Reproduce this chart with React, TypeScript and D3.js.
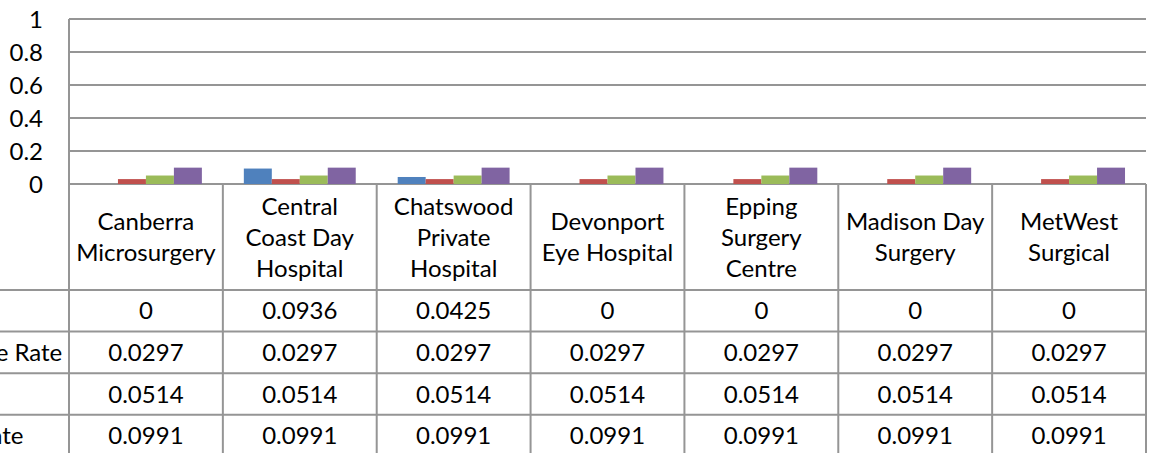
import { scaleBand, scaleLinear, range } from 'd3';

const width = 1152;
const height = 453;

// plot + data table layout (Excel style chart)
const plotLeft = 69;
const plotRight = 1146;
const plotTop = 19;
const plotBottom = 184;
const headerBottom = 290;
const rowHeight = 41.6;
const font = 'Lato, Calibri, sans-serif';
const fontSize = 24;
const lineHeight = 31;
const baselineShift = 8.5; // half the cap height

const categories = [
  'Canberra Microsurgery',
  'Central Coast Day Hospital',
  'Chatswood Private Hospital',
  'Devonport Eye Hospital',
  'Epping Surgery Centre',
  'Madison Day Surgery',
  'MetWest Surgical',
];
// how Excel wrapped the category names in the table header
const categoryLines = [
  ['Canberra', 'Microsurgery'],
  ['Central', 'Coast Day', 'Hospital'],
  ['Chatswood', 'Private', 'Hospital'],
  ['Devonport', 'Eye Hospital'],
  ['Epping', 'Surgery', 'Centre'],
  ['Madison Day', 'Surgery'],
  ['MetWest', 'Surgical'],
];

const seriesNames = ['Hospital', 'Peer Group Average Rate', 'Peer Group Mean', 'Peer Group Max Rate'];
const seriesColors = ['#4F81BD', '#C0504D', '#9BBB59', '#8064A2'];

const hospitalRate = [0, 0.0936, 0.0425, 0, 0, 0, 0];
const averageRate = [0.0297, 0.0297, 0.0297, 0.0297, 0.0297, 0.0297, 0.0297];
const meanRate = [0.0514, 0.0514, 0.0514, 0.0514, 0.0514, 0.0514, 0.0514];
const maxRate = [0.0991, 0.0991, 0.0991, 0.0991, 0.0991, 0.0991, 0.0991];

const yTicks = [0, 0.2, 0.4, 0.6, 0.8, 1];

const lineColor = '#959595';

export default function App() {
  const series = [hospitalRate, averageRate, meanRate, maxRate];

  const x = scaleBand().domain(categories).range([plotLeft, plotRight]);
  // gap width 150% -> 0.75 bar on each side
  const xInner = scaleBand()
    .domain(seriesNames)
    .range([0, x.bandwidth()])
    .paddingInner(0)
    .paddingOuter(0.75);
  const y = scaleLinear().domain([0, 1]).range([plotBottom, plotTop]);

  const rowTops = range(series.length).map((i) => headerBottom + i * rowHeight);
  const labelStart = -202; // label column is cut off on the left

  return (
    <svg
      width={width}
      height={height}
      style={{ position: 'absolute', left: 0, top: 0, background: '#fff' }}
      fontFamily={font}
      fontSize={fontSize}
    >
      {/* gridlines */}
      {yTicks.map((t) => (
        <line
          key={t}
          x1={plotLeft}
          x2={plotRight}
          y1={y(t)}
          y2={y(t)}
          stroke={lineColor}
          strokeWidth={2}
        />
      ))}
      {/* y tick labels */}
      {yTicks.map((t) => (
        <text key={'l' + t} x={43} y={y(t) + baselineShift} textAnchor="end" fill="#000">
          {String(t)}
        </text>
      ))}

      {/* bars */}
      {categories.map((c, ci) => (
        <g key={c} transform={`translate(${x(c)},0)`}>
          {series.map((vals, si) => (
            <rect
              key={si}
              x={xInner(seriesNames[si])}
              width={xInner.bandwidth()}
              y={y(vals[ci])}
              height={y(0) - y(vals[ci])}
              fill={seriesColors[si]}
            />
          ))}
        </g>
      ))}

      {/* data table: horizontal rules */}
      {rowTops.map((ry) => (
        <line key={'h' + ry} x1={0} x2={plotRight} y1={ry} y2={ry} stroke={lineColor} strokeWidth={2} />
      ))}
      {/* vertical rules */}
      <line x1={plotLeft} x2={plotLeft} y1={plotTop} y2={height} stroke={lineColor} strokeWidth={2} />
      {categories.map((c) => (
        <line
          key={'v' + c}
          x1={(x(c) as number) + x.bandwidth()}
          x2={(x(c) as number) + x.bandwidth()}
          y1={plotBottom}
          y2={height}
          stroke={lineColor}
          strokeWidth={2}
        />
      ))}

      {/* header: category names */}
      {categories.map((c, ci) => {
        const lines = categoryLines[ci];
        const mid = (plotBottom + headerBottom) / 2;
        const first = mid - ((lines.length - 1) * lineHeight) / 2 + baselineShift;
        return (
          <text key={'c' + c} textAnchor="middle" fill="#000">
            {lines.map((ln, li) => (
              <tspan key={li} x={(x(c) as number) + x.bandwidth() / 2} y={first + li * lineHeight}>
                {ln}
              </tspan>
            ))}
          </text>
        );
      })}

      {/* rows: legend key + name + values */}
      {series.map((vals, si) => {
        const cy = rowTops[si] + rowHeight / 2;
        return (
          <g key={'r' + si}>
            <rect x={labelStart - 16} y={cy - 5} width={10} height={10} fill={seriesColors[si]} />
            <text x={labelStart} y={cy + baselineShift} fill="#000">
              {seriesNames[si]}
            </text>
            {categories.map((c, ci) => (
              <text
                key={c}
                x={(x(c) as number) + x.bandwidth() / 2}
                y={cy + baselineShift}
                textAnchor="middle"
                fill="#000"
              >
                {String(vals[ci])}
              </text>
            ))}
          </g>
        );
      })}
    </svg>
  );
}
